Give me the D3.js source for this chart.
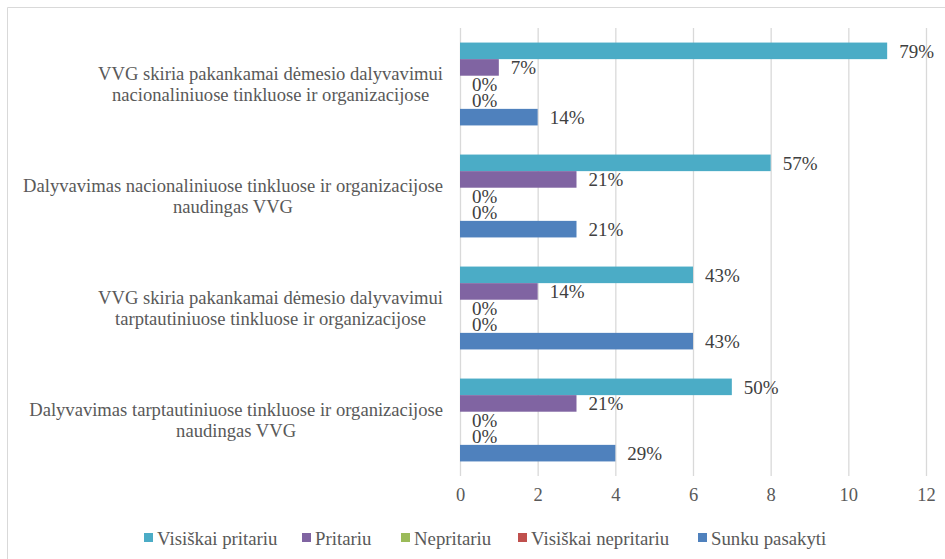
<!DOCTYPE html>
<html>
<head>
<meta charset="utf-8">
<script src="https://cdn.jsdelivr.net/npm/d3@7"></script>
<style>
  html, body { margin: 0; padding: 0; background: #fff; }
  svg { display: block; }
  text { font-family: "Liberation Serif", "Times New Roman", serif; }
</style>
</head>
<body>
<svg id="chart" width="945" height="559"></svg>
<script>
const categories = [
  ["VVG skiria pakankamai dėmesio dalyvavimui", "nacionaliniuose tinkluose ir organizacijose"],
  ["Dalyvavimas nacionaliniuose tinkluose ir organizacijose", "naudingas VVG"],
  ["VVG skiria pakankamai dėmesio dalyvavimui", "tarptautiniuose tinkluose ir organizacijose"],
  ["Dalyvavimas tarptautiniuose tinkluose ir organizacijose", "naudingas VVG"]
];
const seriesNames = ["Visiškai pritariu", "Pritariu", "Nepritariu", "Visiškai nepritariu", "Sunku pasakyti"];
const seriesColors = ["#4bacc6", "#8064a2", "#9bbb59", "#c0504d", "#4f81bd"];
// counts per category (rows) per series (cols)
const counts = [
  [11, 1, 0, 0, 2],
  [8, 3, 0, 0, 3],
  [6, 2, 0, 0, 6],
  [7, 3, 0, 0, 4]
];
const percentLabels = [
  ["79%", "7%", "0%", "0%", "14%"],
  ["57%", "21%", "0%", "0%", "21%"],
  ["43%", "14%", "0%", "0%", "43%"],
  ["50%", "21%", "0%", "0%", "29%"]
];
const xTicks = [0, 2, 4, 6, 8, 10, 12];

const svg = d3.select("#chart");

// chart area border
svg.append("path")
  .attr("d", "M7.5,600 L7.5,7.5 L960,7.5")
  .attr("fill", "none").attr("stroke", "#d9d9d9").attr("stroke-width", 1);

const plotTop = 28, plotBottom = 476, plotLeft = 460, plotRight = 926;

const x = d3.scaleLinear().domain([0, 12]).range([plotLeft, plotRight]);
const y = d3.scaleBand().domain(d3.range(categories.length))
  .range([plotTop, plotBottom]).paddingInner(0.26).paddingOuter(0.13);
const ySub = d3.scaleBand().domain(d3.range(seriesNames.length))
  .range([0, y.bandwidth()]);

// gridlines + axis
const xAxis = d3.axisBottom(x).tickValues(xTicks).tickSize(-(plotBottom - plotTop)).tickPadding(12);
const gx = svg.append("g").attr("transform", `translate(0,${plotBottom})`).call(xAxis);
gx.select(".domain").remove();
gx.selectAll(".tick line").attr("stroke", "#d9d9d9").attr("stroke-width", 1.3);
gx.selectAll(".tick text")
  .attr("fill", "#595959")
  .style("font-size", "18.5px")
  .style("font-family", "'Liberation Serif', serif");

// bars
const groups = svg.append("g").selectAll("g")
  .data(counts)
  .join("g")
  .attr("transform", (d, i) => `translate(0,${y(i)})`);

groups.selectAll("rect")
  .data(d => d.map((v, j) => ({ v, j })))
  .join("rect")
  .attr("x", x(0))
  .attr("y", d => ySub(d.j))
  .attr("width", d => x(d.v) - x(0))
  .attr("height", ySub.bandwidth())
  .attr("fill", d => seriesColors[d.j]);

// data labels
groups.each(function (row, i) {
  d3.select(this).selectAll("text.lbl")
    .data(row.map((v, j) => ({ v, j, t: percentLabels[i][j] })))
    .join("text")
    .attr("class", "lbl")
    .attr("x", d => x(d.v) + 12)
    .attr("y", d => ySub(d.j) + ySub.bandwidth() / 2)
    .attr("dy", "0.35em")
    .attr("fill", "#404040")
    .style("font-size", "19px")
    .text(d => d.t);
});

// category labels (right-aligned block, lines centred within block)
const labelRight = 443;
categories.forEach((lines, i) => {
  const cy = y(i) + y.bandwidth() / 2;
  const g = svg.append("g");
  const texts = lines.map((ln, k) =>
    g.append("text")
      .attr("y", cy + (k - (lines.length - 1) / 2) * 21)
      .attr("dy", "0.35em")
      .attr("fill", "#595959")
      .style("font-size", "18.6px")
      .attr("text-anchor", "middle")
      .text(ln)
  );
  const maxW = d3.max(texts, t => t.node().getComputedTextLength());
  texts.forEach(t => t.attr("x", labelRight - maxW / 2));
});

// legend
const legendStarts = [144, 302, 401, 518, 698];
const legend = svg.append("g");
seriesNames.forEach((name, j) => {
  legend.append("rect")
    .attr("x", legendStarts[j]).attr("y", 533)
    .attr("width", 9).attr("height", 9)
    .attr("fill", seriesColors[j]);
  legend.append("text")
    .attr("x", legendStarts[j] + 13).attr("y", 538)
    .attr("dy", "0.35em")
    .attr("fill", "#595959")
    .style("font-size", "18.8px")
    .text(name);
});
</script>
</body>
</html>
